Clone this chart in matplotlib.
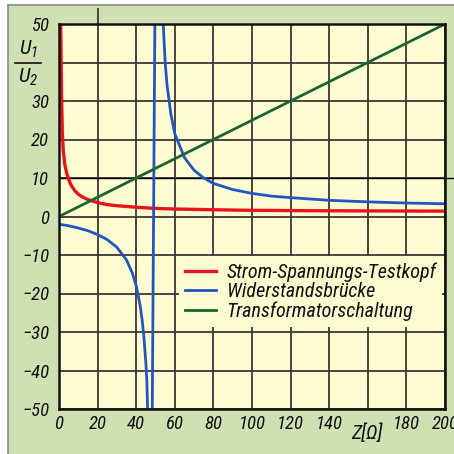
import matplotlib
matplotlib.use("Agg")
import matplotlib.pyplot as plt
from matplotlib.lines import Line2D
from matplotlib.patches import Rectangle

# ---- data ----
z_red = [0.8, 1.0, 1.3, 1.7, 2.2, 3, 4, 5, 6, 8, 10, 12, 15, 20, 25, 30, 40, 50, 60, 80, 100, 130, 160, 200]
u_red = [52, 45, 32, 22, 17, 13.5, 11.2, 9.7, 8.4, 6.8, 5.8, 5.1, 4.4, 3.6, 3.1, 2.8, 2.4, 2.1, 1.95, 1.75, 1.6, 1.5, 1.45, 1.4]

z_blue = [0, 5, 10, 15, 20, 25, 30, 35, 38, 40, 42, 43, 44, 45, 45.5, 46.0,
          48.3, 49.7,
          53.6, 54, 55, 56, 58, 60, 65, 70, 75, 80, 90, 100, 110, 120, 140, 160, 180, 200]
u_blue = [-2, -2.4, -3, -3.7, -4.7, -6, -8, -11.3, -14.7, -18, -23, -26.6, -31.3, -38, -42.4, -52,
          -52, 52,
          52, 50, 40, 34, 26.5, 21.5, 15.3, 12, 10, 8.6, 7, 6, 5.3, 4.9, 4.2, 3.8, 3.5, 3.3]

z_green = [0, 200]
u_green = [0, 50]

x_ticks = [0, 20, 40, 60, 80, 100, 120, 140, 160, 180, 200]
x_labels = ["0", "20", "40", "60", "80", "100", "120", "140", "", "180", "200"]
y_ticks = [-50, -40, -30, -20, -10, 0, 10, 20, 30, 40, 50]
y_labels = ["\u221250", "\u221240", "\u221230", "\u221220", "\u221210", "0", "10", "20", "30", "", "50"]

series_names = ["Strom-Spannungs-Testkopf", "Widerstandsbrücke", "Transformatorschaltung"]

# ---- style ----
FAM = ["Roboto Condensed", "Liberation Sans", "DejaVu Sans"]
plt.rcParams["font.family"] = FAM
plt.rcParams["font.style"] = "italic"
plt.rcParams["mathtext.fontset"] = "custom"
plt.rcParams["mathtext.it"] = "Roboto Condensed:italic"
plt.rcParams["mathtext.rm"] = "Roboto Condensed:italic"

BG_OUT = "#cfe1b3"
BG_IN = "#fefdd2"
GRID = "#3e3636"
RED = "#e8141c"
BLUE = "#2255c4"
GREEN = "#1c6430"
TXT = "#111111"

W = H = 454
fig = plt.figure(figsize=(4.54, 4.54), dpi=100, facecolor="white")

# green outer panel with grey border on top/left
fig.patches.append(Rectangle((8 / W, 0), 1 - 8 / W, 1 - 5 / H, transform=fig.transFigure,
                             facecolor=BG_OUT, edgecolor="none", zorder=-5))
fig.lines.append(Line2D([8 / W, 1], [1 - 5 / H, 1 - 5 / H], transform=fig.transFigure,
                        color="#8a8a8a", lw=1.2, zorder=-4))
fig.lines.append(Line2D([8 / W, 8 / W], [0, 1 - 5 / H], transform=fig.transFigure,
                        color="#8a8a8a", lw=1.2, zorder=-4))

ax = fig.add_axes([59 / W, 1 - 409 / H, 386 / W, 385 / H])
ax.set_zorder(1)
ax.set_facecolor(BG_IN)
ax.set_xlim(0, 200)
ax.set_ylim(-50, 50)

for x in x_ticks:
    ax.axvline(x, color=GRID, lw=1.3, zorder=1)
for y in y_ticks:
    ax.axhline(y, color=GRID, lw=1.3, zorder=1)
# the y=10 line runs on to the right edge in the reference, the x=20 line up past the top
ax.plot([0, 215], [10, 10], color="black", lw=1.0, clip_on=False, zorder=1)
ax.plot([20, 20], [50, 54], color=GRID, lw=1.3, clip_on=False, zorder=1)

ax.plot(z_red, u_red, color=RED, lw=2.4, label=series_names[0], zorder=3)
ax.plot(z_blue, u_blue, color=BLUE, lw=2.0, label=series_names[1], zorder=3)
ax.plot(z_green, u_green, color=GREEN, lw=2.0, label=series_names[2], zorder=3)

for s in ax.spines.values():
    s.set_color(TXT)
    s.set_linewidth(1.8)
    s.set_zorder(4)

ax.set_xticks(x_ticks)
ax.set_xticklabels(x_labels, family=FAM, fontstyle="italic", color=TXT, fontsize=13.5)
ax.set_yticks(y_ticks)
ax.set_yticklabels(y_labels, family=FAM, fontstyle="italic", color=TXT, fontsize=13.5)
ax.tick_params(axis="both", length=0)
ax.tick_params(axis="x", pad=4)
ax.tick_params(axis="y", pad=7)

# y label as fraction U1/U2
fig.text(28 / W, 1 - 49 / H, "$U_1$", ha="center", va="center", fontsize=15, color=TXT)
fig.text(28 / W, 1 - 77 / H, "$U_2$", ha="center", va="center", fontsize=15, color=TXT)
fig.lines.append(Line2D([15 / W, 41 / W], [1 - 63 / H, 1 - 63 / H], transform=fig.transFigure,
                        color=TXT, lw=1.2))

# x label
fig.text(367 / W, 1 - 433 / H, "Z[\u03a9]", ha="center", va="center", fontsize=14.5,
         family=FAM, fontstyle="italic", color=TXT)

leg = ax.legend(loc="lower right", bbox_to_anchor=(0.993, 0.212), frameon=True,
                prop={"family": FAM, "style": "italic", "size": 14.5},
                handlelength=1.55, handletextpad=0.5, borderpad=0.3, labelspacing=0.02,
                borderaxespad=0)
leg.get_frame().set_facecolor(BG_IN)
leg.get_frame().set_edgecolor("none")
leg.get_frame().set_alpha(1)
leg.set_zorder(5)
for t in leg.get_texts():
    t.set_color(TXT)

fig.savefig("out.png", dpi=100, facecolor="white")
